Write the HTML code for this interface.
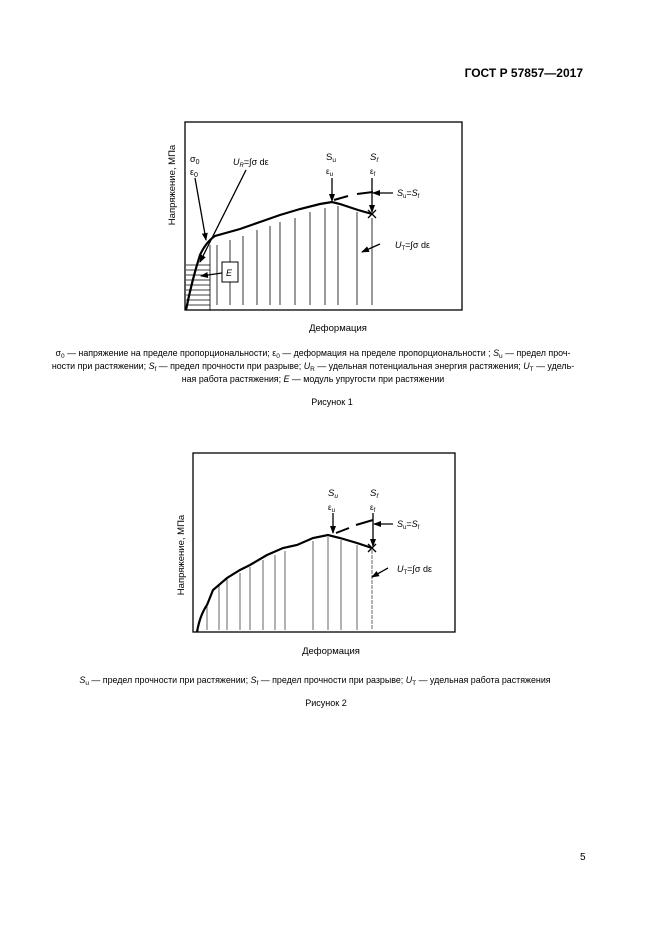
<!DOCTYPE html>
<html><head><meta charset="utf-8"><style>
html,body{margin:0;padding:0;background:#fff}
svg{display:block}
text{font-family:"Liberation Sans",sans-serif;fill:#000}
</style></head><body>
<svg width="661" height="936" viewBox="0 0 661 936" xmlns="http://www.w3.org/2000/svg">
<defs><marker id="a" markerWidth="8" markerHeight="8" refX="7" refY="4" orient="auto" markerUnits="userSpaceOnUse"><path d="M0,1 L8,4 L0,7z" fill="#000"/></marker></defs>
<text x="583" y="77" font-size="12" font-weight="bold" text-anchor="end">ГОСТ Р 57857—2017</text>

<!-- Figure 1 -->
<rect x="185" y="122" width="277" height="188" fill="none" stroke="#000" stroke-width="1.3"/>
<text transform="translate(175,185) rotate(-90)" font-size="9.5" text-anchor="middle">Напряжение, МПа</text>
<g stroke="#000" stroke-width="0.8">
<line x1="186" y1="265" x2="210" y2="265"/><line x1="186" y1="270" x2="210" y2="270"/><line x1="186" y1="275" x2="210" y2="275"/><line x1="186" y1="280" x2="210" y2="280"/><line x1="186" y1="285" x2="210" y2="285"/><line x1="186" y1="290" x2="210" y2="290"/><line x1="186" y1="295" x2="210" y2="295"/><line x1="186" y1="300" x2="210" y2="300"/><line x1="186" y1="305" x2="210" y2="305"/>
<line x1="210" y1="245" x2="210" y2="310"/>
<line x1="217" y1="245" x2="217" y2="305"/><line x1="230" y1="240" x2="230" y2="305"/><line x1="243" y1="236" x2="243" y2="305"/><line x1="257" y1="230" x2="257" y2="305"/><line x1="270" y1="226" x2="270" y2="305"/><line x1="280" y1="222" x2="280" y2="305"/><line x1="295" y1="218" x2="295" y2="305"/><line x1="310" y1="212" x2="310" y2="305"/><line x1="325" y1="208" x2="325" y2="305"/><line x1="338" y1="206" x2="338" y2="305"/><line x1="357" y1="212" x2="357" y2="305"/><line x1="372" y1="218" x2="372" y2="305"/>
</g>
<path d="M186,310 Q192,280 200,255 Q206,242 215,236 L240,229 L260,222 L280,215 L300,209 L320,204 L332,202 L340,204 L358,210 L372,214" fill="none" stroke="#000" stroke-width="2.2"/>
<path d="M334,200 L348,196 M357,194 L373,192" stroke="#000" stroke-width="2"/>
<path d="M368,210 L376,218 M376,210 L368,218" stroke="#000" stroke-width="1.3"/>
<g stroke="#000" stroke-width="1.3" fill="none">
<line x1="332" y1="178" x2="332" y2="201" marker-end="url(#a)"/>
<line x1="372" y1="178" x2="372" y2="212" marker-end="url(#a)"/>
<line x1="393" y1="193" x2="373" y2="193" marker-end="url(#a)"/>
<line x1="195" y1="178" x2="206" y2="240" marker-end="url(#a)"/>
<line x1="246" y1="170" x2="200" y2="262" marker-end="url(#a)"/>
<line x1="222" y1="273" x2="201" y2="276" marker-end="url(#a)"/>
<line x1="380" y1="244" x2="362" y2="252" marker-end="url(#a)"/>
</g>
<rect x="222" y="262" width="16" height="20" fill="#fff" stroke="#000" stroke-width="1"/>
<text x="226" y="276" font-size="9" font-style="italic">E</text>
<text x="190" y="162" font-size="9">σ<tspan font-size="7" dy="2">0</tspan></text>
<text x="190" y="175" font-size="9">ε<tspan font-size="7" dy="2">0</tspan></text>
<text x="233" y="165" font-size="9"><tspan font-style="italic">U</tspan><tspan font-size="6" dy="2" font-style="italic">R</tspan><tspan dy="-2">=∫σ dε</tspan></text>
<text x="326" y="160" font-size="9.5">S<tspan font-size="6.5" dy="2">u</tspan></text>
<text x="326" y="174" font-size="8">ε<tspan font-size="6" dy="2">u</tspan></text>
<text x="370" y="160" font-size="9.5" font-style="italic">S<tspan font-size="6.5" dy="2">f</tspan></text>
<text x="370" y="174" font-size="8">ε<tspan font-size="6" dy="2">f</tspan></text>
<text x="397" y="196" font-size="9"><tspan font-style="italic">S</tspan><tspan font-size="6" dy="2">u</tspan><tspan dy="-2">=</tspan><tspan font-style="italic">S</tspan><tspan font-size="6" dy="2">f</tspan></text>
<text x="395" y="248" font-size="9"><tspan font-style="italic">U</tspan><tspan font-size="6" dy="2">T</tspan><tspan dy="-2">=∫σ dε</tspan></text>
<text x="338" y="331" font-size="9.5" text-anchor="middle">Деформация</text>
<g font-size="8.9">
<text x="313" y="356" text-anchor="middle">σ<tspan font-size="6.5" dy="2">0</tspan><tspan dy="-2"> — напряжение на пределе пропорциональности; ε</tspan><tspan font-size="6.5" dy="2">0</tspan><tspan dy="-2"> — деформация на пределе пропорциональности ; </tspan><tspan font-style="italic">S</tspan><tspan font-size="6.5" dy="2">u</tspan><tspan dy="-2"> — предел проч-</tspan></text>
<text x="313" y="369" text-anchor="middle">ности при растяжении; <tspan font-style="italic">S</tspan><tspan font-size="6.5" dy="2">f</tspan><tspan dy="-2"> — предел прочности при разрыве; </tspan><tspan font-style="italic">U</tspan><tspan font-size="6.5" dy="2">R</tspan><tspan dy="-2"> — удельная потенциальная энергия растяжения; </tspan><tspan font-style="italic">U</tspan><tspan font-size="6.5" dy="2">T</tspan><tspan dy="-2"> — удель-</tspan></text>
<text x="313" y="382" text-anchor="middle">ная работа растяжения; <tspan font-style="italic">E</tspan> — модуль упругости при растяжении</text>
</g>
<text x="332" y="405" font-size="9" text-anchor="middle">Рисунок 1</text>

<!-- Figure 2 -->
<rect x="193" y="453" width="262" height="179" fill="none" stroke="#000" stroke-width="1.3"/>
<text transform="translate(184,555) rotate(-90)" font-size="9.5" text-anchor="middle">Напряжение, МПа</text>
<g stroke="#555" stroke-width="0.9">
<line x1="207" y1="607" x2="207" y2="630"/><line x1="219" y1="585" x2="219" y2="630"/><line x1="227" y1="578" x2="227" y2="630"/><line x1="240" y1="573" x2="240" y2="630"/><line x1="250" y1="567" x2="250" y2="630"/><line x1="263" y1="560" x2="263" y2="630"/><line x1="275" y1="555" x2="275" y2="630"/><line x1="285" y1="551" x2="285" y2="630"/><line x1="313" y1="541" x2="313" y2="630"/><line x1="328" y1="537" x2="328" y2="630"/><line x1="341" y1="540" x2="341" y2="630"/><line x1="357" y1="545" x2="357" y2="630"/><line x1="372" y1="550" x2="372" y2="630" stroke-dasharray="4,1"/>
</g>
<path d="M197,632 Q200,615 207,605 L213,590 L227,578 L240,570 L250,565 L267,555 L283,548 L297,545 L313,538 L328,535 L340,538 L357,543 L372,548" fill="none" stroke="#000" stroke-width="2.2"/>
<path d="M336,533 L349,528 M356,525 L373,520" stroke="#000" stroke-width="2"/>
<path d="M368,544 L376,552 M376,544 L368,552" stroke="#000" stroke-width="1.3"/>
<g stroke="#000" stroke-width="1.3" fill="none">
<line x1="333" y1="513" x2="333" y2="533" marker-end="url(#a)"/>
<line x1="373" y1="513" x2="373" y2="546" marker-end="url(#a)"/>
<line x1="393" y1="524" x2="374" y2="524" marker-end="url(#a)"/>
<line x1="388" y1="568" x2="372" y2="577" marker-end="url(#a)"/>
</g>
<text x="328" y="496" font-size="9.5" font-style="italic">S<tspan font-size="6.5" dy="2">u</tspan></text>
<text x="328" y="510" font-size="8">ε<tspan font-size="6" dy="2">u</tspan></text>
<text x="370" y="496" font-size="9.5" font-style="italic">S<tspan font-size="6.5" dy="2">f</tspan></text>
<text x="370" y="510" font-size="8">ε<tspan font-size="6" dy="2">f</tspan></text>
<text x="397" y="527" font-size="9"><tspan font-style="italic">S</tspan><tspan font-size="6" dy="2">u</tspan><tspan dy="-2">=</tspan><tspan font-style="italic">S</tspan><tspan font-size="6" dy="2">f</tspan></text>
<text x="397" y="572" font-size="9"><tspan font-style="italic">U</tspan><tspan font-size="6" dy="2">T</tspan><tspan dy="-2">=∫σ dε</tspan></text>
<text x="331" y="654" font-size="9.5" text-anchor="middle">Деформация</text>
<text x="315" y="683" font-size="8.9" text-anchor="middle"><tspan font-style="italic">S</tspan><tspan font-size="6.5" dy="2">u</tspan><tspan dy="-2"> — предел прочности при растяжении; </tspan><tspan font-style="italic">S</tspan><tspan font-size="6.5" dy="2">f</tspan><tspan dy="-2"> — предел прочности при разрыве; </tspan><tspan font-style="italic">U</tspan><tspan font-size="6.5" dy="2">T</tspan><tspan dy="-2"> — удельная работа растяжения</tspan></text>
<text x="326" y="706" font-size="9" text-anchor="middle">Рисунок 2</text>

<text x="580" y="860" font-size="10">5</text>
</svg>
</body></html>
